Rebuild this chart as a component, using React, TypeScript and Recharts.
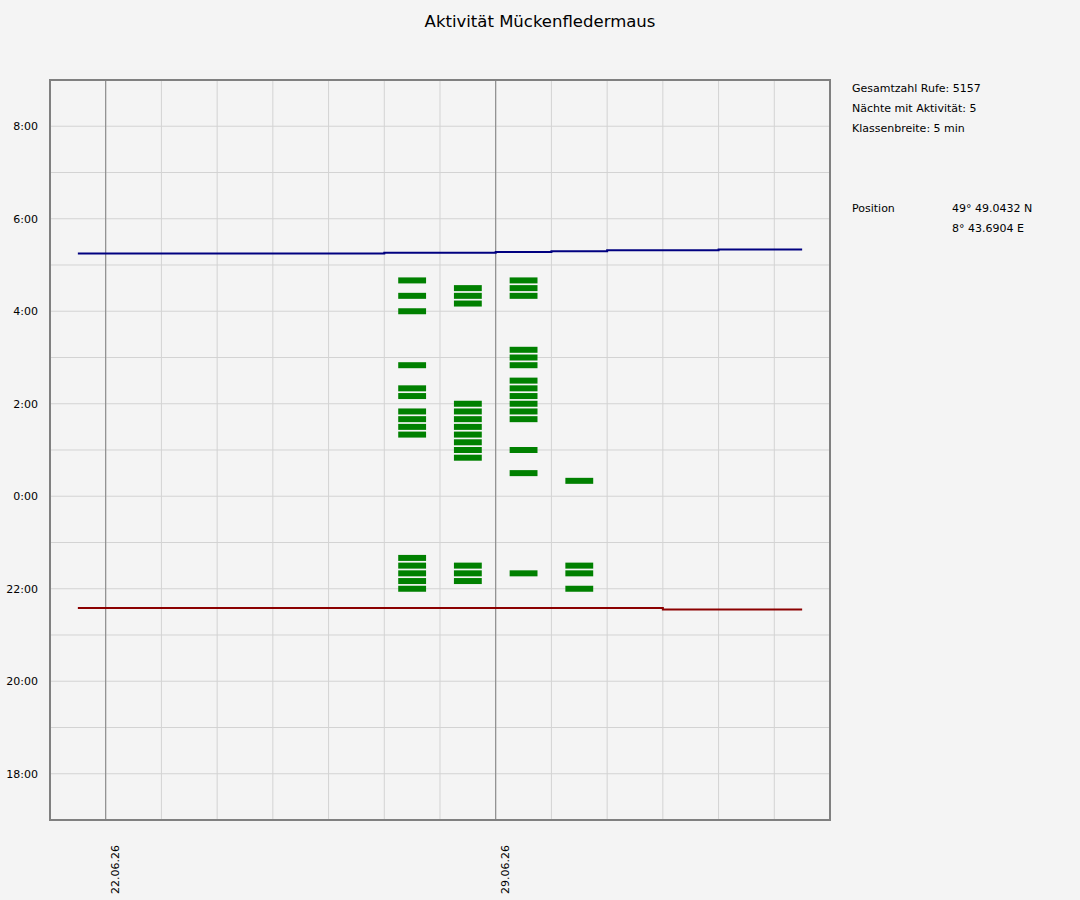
import {
  ComposedChart,
  Line,
  XAxis,
  YAxis,
  CartesianGrid,
  ReferenceArea,
  ReferenceLine
} from 'recharts'

// days on the x axis, 21.06.26 = 0
const dayLabels = [
  '21.06.26', '22.06.26', '23.06.26', '24.06.26', '25.06.26', '26.06.26', '27.06.26',
  '28.06.26', '29.06.26', '30.06.26', '01.07.26', '02.07.26', '03.07.26', '04.07.26', '05.07.26'
]
const weekLabels = ['22.06.26', '29.06.26']

// hour ticks (hours after noon: 6 = 18:00, 20 = 8:00 next morning)
const hourTicks = [6, 7, 8, 9, 10, 11, 12, 13, 14, 15, 16, 17, 18, 19, 20]

// sun times per night, starting with the night of 21.06.26
const sunrise = ['05:15', '05:15', '05:15', '05:15', '05:15', '05:15', '05:16', '05:16', '05:17', '05:18', '05:19', '05:19', '05:20', '05:20']
const sunset = ['21:35', '21:35', '21:35', '21:35', '21:35', '21:35', '21:35', '21:35', '21:35', '21:35', '21:35', '21:33', '21:33', '21:33']

// 5-min classes with calls, per night
const activeNights = ['27.06.26', '28.06.26', '29.06.26', '30.06.26']
const night27 = ['22:00', '22:10', '22:20', '22:30', '22:40', '01:20', '01:30', '01:40', '01:50', '02:10', '02:20', '02:50', '04:00', '04:20', '04:40']
const night28 = ['22:10', '22:20', '22:30', '00:50', '01:00', '01:10', '01:20', '01:30', '01:40', '01:50', '02:00', '04:10', '04:20', '04:30']
const night29 = ['22:20', '00:30', '01:00', '01:40', '01:50', '02:00', '02:10', '02:20', '02:30', '02:50', '03:00', '03:10', '04:20', '04:30', '04:40']
const night30 = ['22:00', '22:20', '22:30', '00:20']
const nightCalls = [night27, night28, night29, night30]

const infoLines = ['Gesamtzahl Rufe: 5157', 'Nächte mit Aktivität: 5', 'Klassenbreite: 5 min']
const position = ['49° 49.0432 N', '8° 43.6904 E']

const FONT = "'DejaVu Sans', sans-serif"
const BAR_HALF = 0.065

const toHours = (t: string) => {
  const [h, m] = t.split(':').map(Number)
  return (h < 12 ? h + 24 : h) - 12 + m / 60
}

const formatHour = (v: number) => (v % 2 === 0 ? `${(v + 12) % 24}:00` : '')

const sunData = sunrise.map((r, i) => ({
  x: i + 0.5,
  rise: toHours(r),
  set: toHours(sunset[i])
}))

const bars = nightCalls.flatMap((times, n) => {
  const day = dayLabels.indexOf(activeNights[n])
  return times.map(t => ({ day, v: toHours(t) }))
})

const DayTick = ({ x, y, payload }: any) => {
  const label = dayLabels[payload.value]
  if (!weekLabels.includes(label)) return null
  const tx = x + 13
  const ty = y + 25
  return (
    <text
      x={tx}
      y={ty}
      transform={`rotate(-90 ${tx} ${ty})`}
      textAnchor='end'
      fontSize={11}
      fontFamily={FONT}
      fill='#000'
    >
      {label}
    </text>
  )
}

export default function App () {
  return (
    <div style={{ position: 'absolute', left: 0, top: 0, width: 1080, height: 900, background: '#f4f4f4' }}>
      <ComposedChart
        width={1080}
        height={900}
        data={sunData}
        margin={{ top: 80, right: 250, bottom: 0, left: 0 }}
      >
        <CartesianGrid stroke='#d3d3d3' />
        <XAxis
          dataKey='x'
          type='number'
          domain={[0, 14]}
          ticks={[1, 2, 3, 4, 5, 6, 7, 8, 9, 10, 11, 12, 13]}
          tick={<DayTick />}
          tickLine={false}
          axisLine={false}
          tickSize={0}
          tickMargin={0}
          height={80}
          interval={0}
        />
        <YAxis
          type='number'
          domain={[5, 21]}
          ticks={hourTicks}
          tickFormatter={formatHour}
          tickLine={false}
          axisLine={false}
          tickSize={0}
          tickMargin={12}
          width={50}
          interval={0}
          tick={{ fontSize: 11, fontFamily: FONT, fill: '#000' }}
        />
        {weekLabels.map(w => (
          <ReferenceLine key={w} x={dayLabels.indexOf(w)} stroke='#808080' strokeWidth={1} />
        ))}
        {bars.map((b, i) => (
          <ReferenceArea
            key={i}
            x1={b.day + 0.25}
            x2={b.day + 0.75}
            y1={b.v - BAR_HALF}
            y2={b.v + BAR_HALF}
            fill='#008000'
            fillOpacity={1}
            stroke='none'
          />
        ))}
        <Line type='step' dataKey='rise' stroke='#000080' strokeWidth={2} dot={false} isAnimationActive={false} />
        <Line type='step' dataKey='set' stroke='#8b0000' strokeWidth={2} dot={false} isAnimationActive={false} />
        <ReferenceArea x1={0} x2={14} y1={5} y2={21} fill='none' stroke='#808080' strokeWidth={2} />
      </ComposedChart>
      <svg
        width={1080}
        height={900}
        style={{ position: 'absolute', left: 0, top: 0, pointerEvents: 'none' }}
        fontFamily={FONT}
      >
        <text x={540} y={27} textAnchor='middle' fontSize={16.5} fill='#000'>
          Aktivität Mückenfledermaus
        </text>
        {infoLines.map((t, i) => (
          <text key={t} x={852} y={92 + i * 20} fontSize={11} fill='#000'>{t}</text>
        ))}
        <text x={852} y={212} fontSize={11} fill='#000'>Position</text>
        {position.map((t, i) => (
          <text key={t} x={952} y={212 + i * 20} fontSize={11} fill='#000'>{t}</text>
        ))}
      </svg>
    </div>
  )
}
